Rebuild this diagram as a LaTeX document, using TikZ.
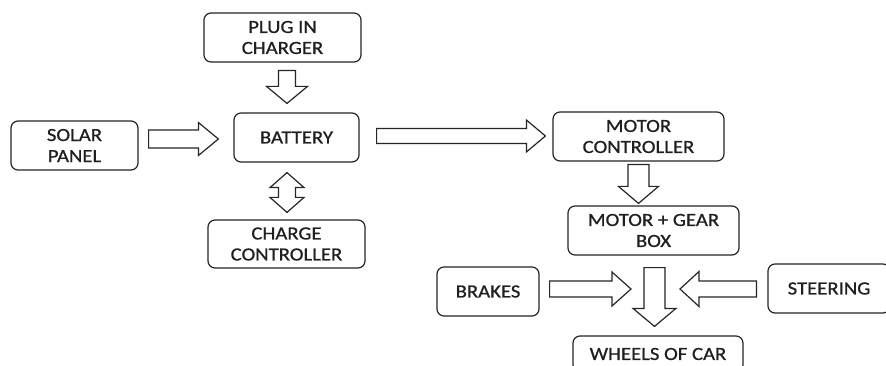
\documentclass[tikz,border=0pt]{standalone}
\usepackage{fontspec}
\setmainfont{Carlito}[FakeStretch=1.12,FakeBold=0.8]
\usepackage{tikz}
\usetikzlibrary{calc}

% block arrow from #1 to tip #2: shaft half width #3, head half width #4, head length #5
\newcommand{\blockarrow}[5]{%
  \draw[arrowline]
    ($(#1)!#3!90:(#2)$) -- ($($(#2)!#5!(#1)$)!#3!-90:(#1)$)
    -- ($($(#2)!#5!(#1)$)!#4!-90:(#1)$) -- (#2)
    -- ($($(#2)!#5!(#1)$)!#4!90:(#1)$) -- ($($(#2)!#5!(#1)$)!#3!90:(#1)$)
    -- ($(#1)!#3!-90:(#2)$) -- cycle;}
% double headed block arrow between tips #1 and #2
\newcommand{\dblarrow}[5]{%
  \draw[arrowline]
    (#1) -- ($($(#1)!#5!(#2)$)!#4!90:(#2)$) -- ($($(#1)!#5!(#2)$)!#3!90:(#2)$)
    -- ($($(#2)!#5!(#1)$)!#3!-90:(#1)$) -- ($($(#2)!#5!(#1)$)!#4!-90:(#1)$)
    -- (#2)
    -- ($($(#2)!#5!(#1)$)!#4!90:(#1)$) -- ($($(#2)!#5!(#1)$)!#3!90:(#1)$)
    -- ($($(#1)!#5!(#2)$)!#3!-90:(#2)$) -- ($($(#1)!#5!(#2)$)!#4!-90:(#2)$)
    -- cycle;}

\begin{document}
\begin{tikzpicture}[x=1pt,y=-1pt,
  font=\fontsize{18.5}{21}\selectfont,
  box/.style={draw=black!85,line width=1.2pt,rounded corners=7pt,
    align=center,inner sep=0pt,text=black!88},
  arrowline/.style={draw=black!85,line width=1.2pt,fill=white,line join=miter}]
\clip (0,0) rectangle (886,366);
\fill[white] (0,0) rectangle (886,366);

% charging side
\node[box,minimum width=157,minimum height=49] (plug) at (282.5,37.5)
  {PLUG IN\\CHARGER};
\node[box,minimum width=125,minimum height=49] (battery) at (296.5,137.5)
  {BATTERY};
\node[box,minimum width=127,minimum height=49] (solar) at (74.5,145.5)
  {SOLAR\\PANEL};
\node[box,minimum width=157,minimum height=48] (charge) at (286.5,244)
  {CHARGE\\CONTROLLER};

% drive side
\node[box,minimum width=171,minimum height=49] (motorctrl) at (638.5,136.5)
  {MOTOR\\CONTROLLER};
\node[box,minimum width=171,minimum height=49] (gear) at (653.5,230.5)
  {MOTOR + GEAR\\BOX};
\node[box,minimum width=102,minimum height=49] (brakes) at (488,291.5)
  {BRAKES};
\node[box,minimum width=122,minimum height=49] (steering) at (829,288.5)
  {STEERING};
\node[box,minimum width=170,minimum height=36] (wheels) at (658,354)
  {WHEELS OF CAR};
\coordinate (join) at (654.5,289);

\coordinate (a1) at ($(plug.south)+(4.5,8)$);
\coordinate (a2) at ($(battery.north)+(-9.5,-9)$);
\blockarrow{a1}{a2}{8.5pt}{20.5pt}{17pt}
\coordinate (b1) at ($(solar.east)+(10,-6.5)$);
\coordinate (b2) at ($(battery.west)+(-15,1.5)$);
\blockarrow{b1}{b2}{9pt}{16.5pt}{20pt}
\coordinate (c1) at ($(battery.south)+(-9.5,10)$);
\coordinate (c2) at ($(charge.north)+(0.5,-7)$);
\dblarrow{c1}{c2}{8.5pt}{17pt}{15pt}
\coordinate (d1) at ($(battery.east)+(17,-1.5)$);
\coordinate (d2) at ($(motorctrl.west)+(-7,-0.5)$);
\blockarrow{d1}{d2}{7.5pt}{16pt}{19pt}
\coordinate (e1) at ($(motorctrl.south)+(0,3)$);
\coordinate (e2) at ($(gear.north)+(-15,-2)$);
\blockarrow{e1}{e2}{10.5pt}{20pt}{17pt}
\coordinate (f1) at ($(gear.south)+(1,12)$);
\coordinate (f2) at ($(wheels.north)+(-3.5,-9)$);
\blockarrow{f1}{f2}{10.5pt}{21.5pt}{18pt}
\coordinate (g1) at ($(brakes.east)+(10,-2.5)$);
\coordinate (g2) at ($(join)+(-23.5,0)$);
\blockarrow{g1}{g2}{8pt}{17pt}{19pt}
\coordinate (h1) at ($(steering.west)+(-11,0.5)$);
\coordinate (h2) at ($(join)+(25.5,0)$);
\blockarrow{h1}{h2}{8pt}{17.5pt}{19pt}
\end{tikzpicture}
\end{document}
